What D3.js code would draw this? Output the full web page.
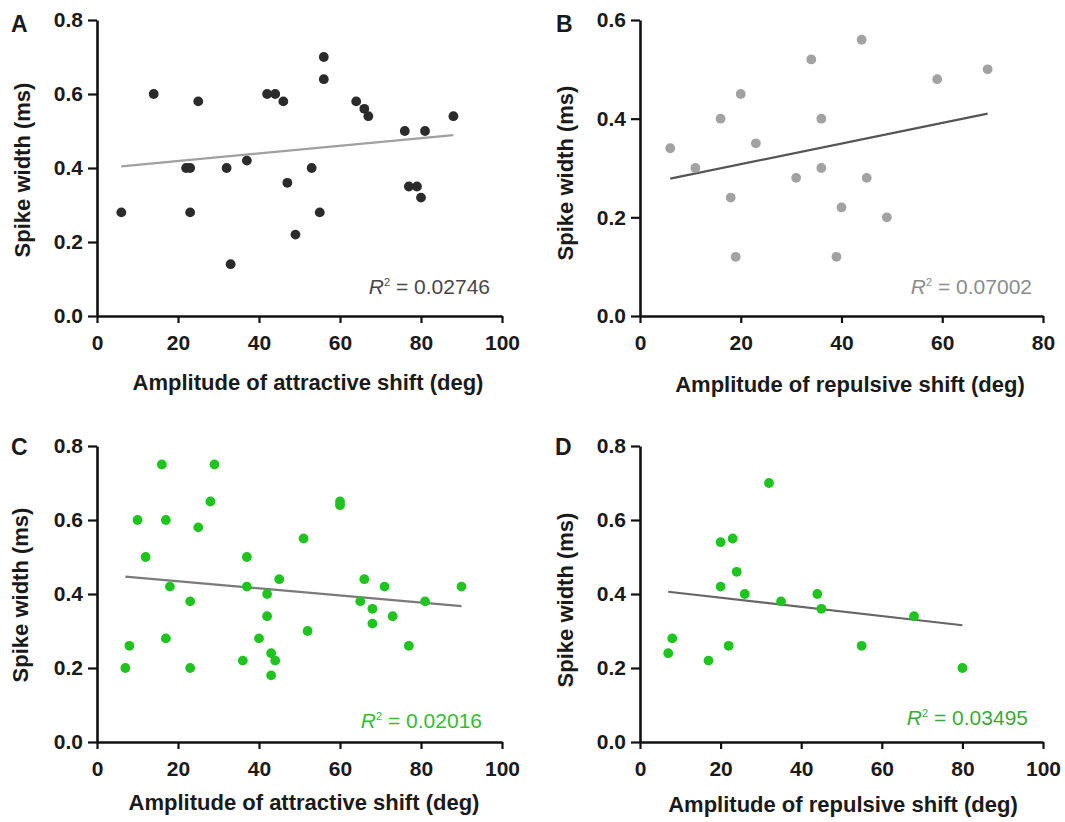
<!DOCTYPE html>
<html>
<head>
<meta charset="utf-8">
<script src="https://cdn.jsdelivr.net/npm/d3@7"></script>
<style>
  html, body { margin: 0; padding: 0; background: #fff; }
  svg { display: block; font-family: "Liberation Sans", Arial, Helvetica, sans-serif; }
</style>
</head>
<body>
<svg id="fig" width="1065" height="822"></svg>
<script>
// Spike width vs. amplitude of tuning shift, four groups of neurons
const aShift = [6, 14, 22, 23, 23, 25, 32, 33, 37, 42, 44, 46, 47, 49, 53, 55, 56, 56, 64, 66, 67, 76, 81, 77, 79, 80, 88];
const aWidth = [0.28, 0.60, 0.40, 0.40, 0.28, 0.58, 0.40, 0.14, 0.42, 0.60, 0.60, 0.58, 0.36, 0.22, 0.40, 0.28, 0.70, 0.64, 0.58, 0.56, 0.54, 0.50, 0.50, 0.35, 0.35, 0.32, 0.54];

const bShift = [6, 11, 16, 18, 19, 20, 23, 31, 34, 36, 36, 39, 40, 44, 45, 49, 59, 69];
const bWidth = [0.34, 0.30, 0.40, 0.24, 0.12, 0.45, 0.35, 0.28, 0.52, 0.40, 0.30, 0.12, 0.22, 0.56, 0.28, 0.20, 0.48, 0.50];

const cShift = [7, 8, 10, 12, 16, 17, 17, 18, 23, 23, 25, 28, 29, 36, 37, 37, 40, 42, 42, 43, 43, 44, 45, 51, 52, 60, 60, 65, 66, 68, 68, 71, 73, 77, 81, 90];
const cWidth = [0.20, 0.26, 0.60, 0.50, 0.75, 0.60, 0.28, 0.42, 0.38, 0.20, 0.58, 0.65, 0.75, 0.22, 0.50, 0.42, 0.28, 0.40, 0.34, 0.24, 0.18, 0.22, 0.44, 0.55, 0.30, 0.65, 0.64, 0.38, 0.44, 0.36, 0.32, 0.42, 0.34, 0.26, 0.38, 0.42];

const dShift = [7, 8, 17, 20, 20, 22, 23, 24, 26, 32, 35, 44, 45, 55, 68, 80];
const dWidth = [0.24, 0.28, 0.22, 0.54, 0.42, 0.26, 0.55, 0.46, 0.40, 0.70, 0.38, 0.40, 0.36, 0.26, 0.34, 0.20];

// Linear fits (intercept, slope) and reported R²
const fitIntercept = [0.398, 0.266, 0.4537, 0.4148];
const fitSlope = [0.001034, 0.00209, -0.000958, -0.00124];
const r2Values = ["0.02746", "0.07002", "0.02016", "0.03495"];

// Axis ranges and tick values
const panelLetters = ["A", "B", "C", "D"];
const xMax = [100, 80, 100, 100];
const yMax = [0.8, 0.6, 0.8, 0.8];
const xTicks = [[0, 20, 40, 60, 80, 100], [0, 20, 40, 60, 80], [0, 20, 40, 60, 80, 100], [0, 20, 40, 60, 80, 100]];
const yTicks = [[0, 0.2, 0.4, 0.6, 0.8], [0, 0.2, 0.4, 0.6], [0, 0.2, 0.4, 0.6, 0.8], [0, 0.2, 0.4, 0.6, 0.8]];
const xTitles = ["Amplitude of attractive shift (deg)", "Amplitude of repulsive shift (deg)",
                 "Amplitude of attractive shift (deg)", "Amplitude of repulsive shift (deg)"];
const yTitle = "Spike width (ms)";

const seriesX = [aShift, bShift, cShift, dShift];
const seriesY = [aWidth, bWidth, cWidth, dWidth];

// Layout and styling of each panel
const frames = [
  { left: 97,  right: 502,  top: 20,  bottom: 316, letterX: 11,  letterY: 32,  yTitleX: 22,  yTitleY: 170, xTitleX: 308, xTitleY: 390, r2X: 490,  r2Y: 294,
    dot: "#2b2b2b", line: "#a0a0a0", r2: "#474747" },
  { left: 640, right: 1043, top: 20,  bottom: 316, letterX: 556, letterY: 32,  yTitleX: 565, yTitleY: 173, xTitleX: 850, xTitleY: 392, r2X: 1032, r2Y: 294,
    dot: "#a2a2a2", line: "#555555", r2: "#8c8c8c" },
  { left: 97,  right: 502,  top: 446, bottom: 742, letterX: 11,  letterY: 455, yTitleX: 20,  yTitleY: 595, xTitleX: 304, xTitleY: 810, r2X: 482,  r2Y: 728,
    dot: "#1fc41f", line: "#7a7a7a", r2: "#2fc02f" },
  { left: 640, right: 1043, top: 446, bottom: 742, letterX: 555, letterY: 455, yTitleX: 565, yTitleY: 600, xTitleX: 843, xTitleY: 812, r2X: 1028, r2Y: 725,
    dot: "#1fc41f", line: "#666666", r2: "#3aab3a" }
];

const svg = d3.select("#fig");

frames.forEach((f, i) => {
  const x = d3.scaleLinear().domain([0, xMax[i]]).range([f.left, f.right]);
  const y = d3.scaleLinear().domain([0, yMax[i]]).range([f.bottom, f.top]);
  const g = svg.append("g");

  // axes
  const yAxis = d3.axisLeft(y).tickValues(yTicks[i]).tickFormat(d3.format(".1f")).tickSize(9).tickSizeOuter(0).tickPadding(5);
  const xAxis = d3.axisBottom(x).tickValues(xTicks[i]).tickFormat(d3.format("d")).tickSize(7).tickSizeOuter(0).tickPadding(12);

  const gy = g.append("g").attr("transform", `translate(${f.left},0)`).call(yAxis);
  const gx = g.append("g").attr("transform", `translate(0,${f.bottom})`).call(xAxis);
  [gx, gy].forEach(ax => {
    ax.select(".domain").attr("stroke", "#111").attr("stroke-width", 2.6);
    ax.selectAll(".tick line").attr("stroke", "#111").attr("stroke-width", 2.2);
    ax.selectAll(".tick text").attr("fill", "#1a1a1a").attr("font-size", 21).attr("font-weight", "bold")
      .attr("font-family", "'Liberation Sans', Arial, sans-serif");
  });

  // regression line over the data range
  const [xmin, xmax] = d3.extent(seriesX[i]);
  const fitLine = d3.line().x(d => x(d)).y(d => y(fitIntercept[i] + fitSlope[i] * d));
  g.append("path").datum([xmin, xmax]).attr("d", fitLine)
    .attr("fill", "none").attr("stroke", f.line).attr("stroke-width", 2.2);

  // points
  g.append("g").selectAll("circle")
    .data(seriesX[i].map((v, k) => [v, seriesY[i][k]]))
    .join("circle")
    .attr("cx", d => x(d[0])).attr("cy", d => y(d[1])).attr("r", 4.9)
    .attr("fill", f.dot);

  // R² annotation
  const t = g.append("text").attr("x", f.r2X).attr("y", f.r2Y).attr("text-anchor", "end")
    .attr("font-size", 21).attr("fill", f.r2);
  t.append("tspan").attr("font-style", "italic").text("R");
  t.append("tspan").attr("font-size", 11).attr("dy", -8).text("2");
  t.append("tspan").attr("dy", 8).text(" = " + r2Values[i]);

  // titles
  g.append("text").attr("x", f.xTitleX).attr("y", f.xTitleY).attr("text-anchor", "middle")
    .attr("font-size", 22).attr("font-weight", "bold").attr("fill", "#1a1a1a").text(xTitles[i]);
  g.append("text").attr("transform", `translate(${f.yTitleX},${f.yTitleY}) rotate(-90)`)
    .attr("text-anchor", "middle").attr("dominant-baseline", "central")
    .attr("font-size", 22).attr("font-weight", "bold").attr("fill", "#1a1a1a").text(yTitle);
  g.append("text").attr("x", f.letterX).attr("y", f.letterY)
    .attr("font-size", 23).attr("font-weight", "bold").attr("fill", "#1a1a1a").text(panelLetters[i]);
});
</script>
</body>
</html>
